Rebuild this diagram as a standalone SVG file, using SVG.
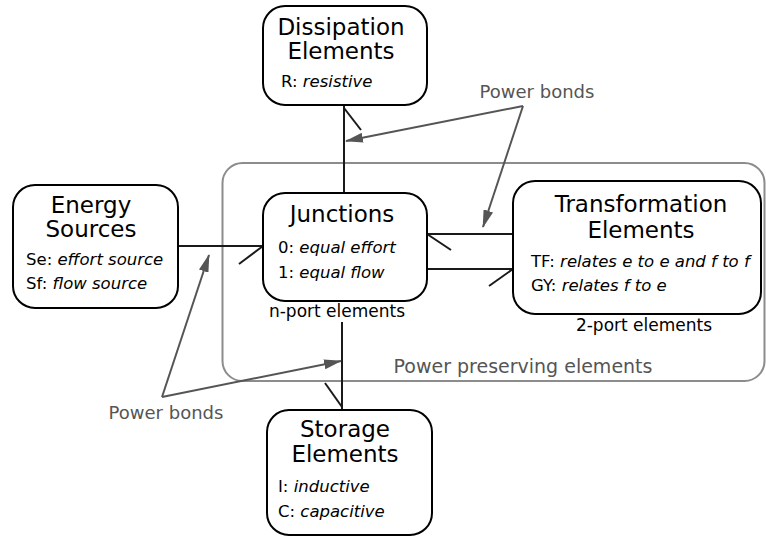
<svg xmlns="http://www.w3.org/2000/svg" width="766" height="538" viewBox="0 0 766 538">
  <style>
    .node { fill: #fff; stroke: #000; stroke-width: 2; }
    .title { font-family: "DejaVu Sans", Verdana, sans-serif; font-size: 23px; fill: #000; text-anchor: middle; }
    .item { font-family: "DejaVu Sans", Verdana, sans-serif; font-size: 16.5px; fill: #000; }
    .item tspan.i { font-style: italic; }
    .note { font-family: "DejaVu Sans", Verdana, sans-serif; font-size: 17px; fill: #000; text-anchor: middle; }
    .gray { font-family: "DejaVu Sans", Verdana, sans-serif; font-size: 18px; fill: #555; text-anchor: middle; }
    .bond { stroke: #1a1a1a; stroke-width: 2; fill: none; }
    .pointer { stroke: #555; stroke-width: 2; fill: none; marker-end: url(#head); }
    .frame { fill: none; stroke: #8c8c8c; stroke-width: 2; }
  </style>
  <defs>
    <marker id="head" markerUnits="userSpaceOnUse" viewBox="0 0 18 10" markerWidth="18" markerHeight="10" refX="17" refY="5" orient="auto">
      <path d="M0,0 L18,5 L0,10 Z" fill="#555"/>
    </marker>
  </defs>

  <rect width="766" height="538" fill="#fff"/>

  <!-- power preserving region -->
  <g id="power-preserving">
    <rect class="frame" x="222.5" y="163" width="542" height="218" rx="20"/>
    <text class="gray" x="523" y="373" style="font-size:19px">Power preserving elements</text>
  </g>

  <!-- bonds with half-arrows -->
  <g id="connectors">
    <!-- Junctions -> Dissipation -->
    <line class="bond" x1="344" y1="105" x2="344" y2="193"/>
    <line class="bond" x1="344" y1="108" x2="361" y2="130"/>
    <!-- Energy Sources -> Junctions -->
    <line class="bond" x1="178" y1="246" x2="263" y2="246"/>
    <line class="bond" x1="263" y1="246" x2="239" y2="264"/>
    <!-- Transformation -> Junctions -->
    <line class="bond" x1="427" y1="234" x2="513" y2="234"/>
    <line class="bond" x1="427" y1="234" x2="451" y2="250"/>
    <!-- Junctions -> Transformation -->
    <line class="bond" x1="427" y1="269" x2="513" y2="269"/>
    <line class="bond" x1="513" y1="269" x2="489" y2="286"/>
    <!-- Junctions -> Storage -->
    <line class="bond" x1="342" y1="322" x2="342" y2="409"/>
    <line class="bond" x1="342" y1="407" x2="325" y2="383"/>

    <!-- "Power bonds" pointers -->
    <polyline class="pointer" points="523,106 346,141"/>
    <polyline class="pointer" points="523,106 483,227"/>
    <polyline class="pointer" points="162,397 209,255"/>
    <polyline class="pointer" points="162,397 341,361"/>
  </g>

  <g id="label-power-bonds-top">
    <text class="gray" x="537" y="98">Power bonds</text>
  </g>
  <g id="label-power-bonds-bottom">
    <text class="gray" x="166" y="419">Power bonds</text>
  </g>

  <g id="dissipation">
    <rect class="node" x="263" y="6" width="164" height="99" rx="22"/>
    <text class="title" x="341" y="35">Dissipation</text>
    <text class="title" x="341" y="59">Elements</text>
    <text class="item" x="281" y="87">R: <tspan class="i">resistive</tspan></text>
  </g>

  <g id="energy-sources">
    <rect class="node" x="13" y="185" width="165" height="123" rx="22"/>
    <text class="title" x="91" y="213">Energy</text>
    <text class="title" x="91" y="237">Sources</text>
    <text class="item" x="26" y="265">Se: <tspan class="i">effort source</tspan></text>
    <text class="item" x="26" y="289">Sf: <tspan class="i">flow source</tspan></text>
  </g>

  <g id="junctions">
    <rect class="node" x="263" y="193" width="164" height="108" rx="22"/>
    <text class="title" x="342" y="222">Junctions</text>
    <text class="item" x="278" y="253">0: <tspan class="i">equal effort</tspan></text>
    <text class="item" x="278" y="278">1: <tspan class="i">equal flow</tspan></text>
    <text class="note" x="337" y="317">n-port elements</text>
  </g>

  <g id="transformation">
    <rect class="node" x="513" y="181" width="248" height="133" rx="22"/>
    <text class="title" x="641" y="212">Transformation</text>
    <text class="title" x="641" y="238">Elements</text>
    <text class="item" x="531" y="267">TF: <tspan class="i">relates e to e and f to f</tspan></text>
    <text class="item" x="531" y="291">GY: <tspan class="i">relates f to e</tspan></text>
    <text class="note" x="644" y="331">2-port elements</text>
  </g>

  <g id="storage">
    <rect class="node" x="267" y="410" width="165" height="125" rx="22"/>
    <text class="title" x="345" y="437">Storage</text>
    <text class="title" x="345" y="462">Elements</text>
    <text class="item" x="278" y="492">I: <tspan class="i">inductive</tspan></text>
    <text class="item" x="278" y="517">C: <tspan class="i">capacitive</tspan></text>
  </g>
</svg>
